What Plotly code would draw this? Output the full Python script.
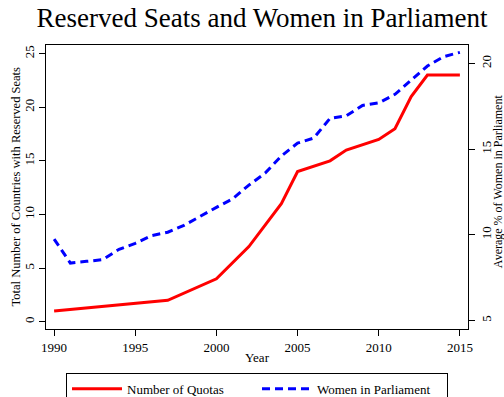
import plotly.graph_objects as go

# Countries with reserved seats (quota count), by year
quota_years = [1990, 1997, 2000, 2002, 2004, 2005, 2007, 2008, 2010, 2011, 2012, 2013, 2014, 2015]
quota_counts = [1, 2, 4, 7, 11, 14, 15, 16, 17, 18, 21, 23, 23, 23]

# Average share of women in parliament (%), by year
women_years = list(range(1990, 2016))
women_pct = [9.75, 8.35, 8.45, 8.55, 9.15, 9.5, 9.95, 10.15, 10.55, 11.1,
             11.6, 12.1, 12.9, 13.6, 14.6, 15.35, 15.65, 16.8, 16.95, 17.55,
             17.7, 18.2, 19.05, 19.85, 20.4, 20.65]

x_ticks = [1990, 1995, 2000, 2005, 2010, 2015]
left_ticks = [0, 5, 10, 15, 20, 25]
right_ticks = [5, 10, 15, 20]

FONT = "Liberation Serif"

fig = go.Figure()
fig.add_trace(go.Scatter(
    x=quota_years, y=quota_counts, name="Number of Quotas", mode="lines",
    line=dict(color="#ff0000", width=3), yaxis="y"))
fig.add_trace(go.Scatter(
    x=women_years, y=women_pct, name="Women in Parliament", mode="lines",
    line=dict(color="#0000ff", width=3, dash="8px,5px"), yaxis="y2"))

axis_common = dict(showgrid=False, zeroline=False, showline=True, linecolor="black",
                   linewidth=1, ticks="outside", ticklen=6, tickcolor="black",
                   tickfont=dict(family=FONT, size=13, color="black"))

fig.update_layout(
    width=504, height=397,
    margin=dict(l=46, r=36, t=45, b=68, autoexpand=False),
    paper_bgcolor="white", plot_bgcolor="white",
    font=dict(family=FONT, size=13, color="black"),
    title=dict(text="Reserved Seats and Women in Parliament", x=0.52, xanchor="center",
               y=0.957, yanchor="middle", font=dict(family=FONT, size=27, color="black")),
    xaxis=dict(range=[1989.5, 2015.5], tickvals=x_ticks, mirror=True, **axis_common),
    yaxis=dict(range=[-0.68, 25.8], tickvals=left_ticks, tickangle=-90, **axis_common),
    yaxis2=dict(range=[4.5, 21.08], tickvals=right_ticks, tickangle=-90, overlaying="y",
                side="right", **axis_common),
    showlegend=True,
    legend=dict(orientation="h", x=0.5, xanchor="center",
                yref="container", y=0.061, yanchor="top",
                bordercolor="black", borderwidth=1, bgcolor="white",
                font=dict(family=FONT, size=13), entrywidth=125, itemwidth=50,
                tracegroupgap=0),
    annotations=[
        dict(text="Year", xref="paper", yref="paper", x=0.5, y=-0.1, yanchor="middle",
             xanchor="center", showarrow=False, font=dict(family=FONT, size=13)),
        dict(text="Total Number of Countries with Reserved Seats", xref="paper", yref="paper",
             x=-0.07, xanchor="center", y=0.5, yanchor="middle", textangle=-90,
             showarrow=False, font=dict(family=FONT, size=12.5)),
        dict(text="Average % of Women in Parliament", xref="paper", yref="paper",
             x=1.073, xanchor="center", y=0.52, yanchor="middle", textangle=-90,
             showarrow=False, font=dict(family=FONT, size=12)),
    ],
)

fig.write_html("out.html")
